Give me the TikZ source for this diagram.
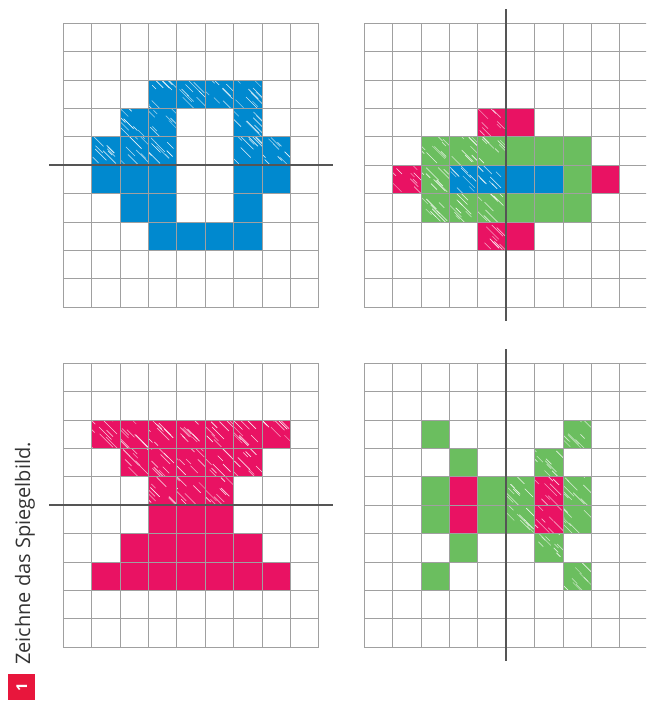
\documentclass[tikz,border=0pt]{standalone}
\usepackage{fontspec}
\newfontfamily\taskfont{Open Sans}
\definecolor{cblue}{RGB}{0,137,207}
\definecolor{cpink}{RGB}{233,18,99}
\definecolor{cgreen}{RGB}{107,190,95}
\definecolor{cred}{RGB}{232,22,60}
\definecolor{gridgray}{RGB}{160,160,160}
\definecolor{mirrorgray}{RGB}{85,85,85}
\tikzset{
  gridline/.style={draw=gridgray, line width=1pt},
  mirror/.style={draw=mirrorgray, line width=2.2pt},
  streak/.style={draw=white, line width=0.6pt, line cap=round}
}
% coloured cell with crayon streaks: colour, column, row
\newcommand\hatchcell[3]{%
  \fill[#1] (#2,-#3) rectangle ++(1,-1);
  \begin{scope}
    \clip (#2,-#3) rectangle ++(1,-1);
    \foreach \k in {1,...,9}{
      \pgfmathsetmacro\sx{#2-0.2+rnd}
      \pgfmathsetmacro\sy{-#3+0.2-rnd}
      \pgfmathsetmacro\sl{0.12+0.35*rnd}
      \pgfmathsetmacro\so{0.5+0.45*rnd}
      \draw[streak, opacity=\so] (\sx,\sy) -- ++(\sl,-\sl);
    }
  \end{scope}}
\newcommand\solidcell[3]{\fill[#1] (#2,-#3) rectangle ++(1,-1);}
\begin{document}
\begin{tikzpicture}
  \pgfmathsetseed{4711}
  \useasboundingbox (-2.229,0.82) rectangle (20.52,-23.97);
  \clip (-2.229,0.82) rectangle (20.52,-23.97);

  % oben links
  \begin{scope}[shift={(0,0)}]
    \foreach \c/\r in {3/2,4/2,5/2,6/2,2/3,3/3,6/3,1/4,2/4,3/4,6/4,7/4}
      {\hatchcell{cblue}{\c}{\r}}
    \foreach \c/\r in {1/5,2/5,3/5,6/5,7/5,2/6,3/6,6/6,3/7,4/7,5/7,6/7}
      {\solidcell{cblue}{\c}{\r}}
    \draw[gridline] (0,0) grid (9,-10);
    \draw[mirror] (-0.5,-5) -- (9.5,-5);
  \end{scope}

  % oben rechts
  \begin{scope}[shift={(10.6,0)}]
    \foreach \c/\r in {4/3,1/5,4/7}
      {\hatchcell{cpink}{\c}{\r}}
    \foreach \c/\r in {2/4,3/4,4/4,2/5,2/6,3/6,4/6}
      {\hatchcell{cgreen}{\c}{\r}}
    \foreach \c/\r in {3/5,4/5}
      {\hatchcell{cblue}{\c}{\r}}
    \foreach \c/\r in {5/3,8/5,5/7}
      {\solidcell{cpink}{\c}{\r}}
    \foreach \c/\r in {5/4,6/4,7/4,7/5,5/6,6/6,7/6}
      {\solidcell{cgreen}{\c}{\r}}
    \foreach \c/\r in {5/5,6/5}
      {\solidcell{cblue}{\c}{\r}}
    \draw[gridline] (0,0) grid (10,-10);
    \draw[mirror] (5,0.5) -- (5,-10.5);
  \end{scope}

  % unten links
  \begin{scope}[shift={(0,-11.97)}]
    \foreach \c in {1,...,7}
      {\hatchcell{cpink}{\c}{2}}
    \foreach \c in {2,...,6}
      {\hatchcell{cpink}{\c}{3}}
    \foreach \c in {3,...,5}
      {\hatchcell{cpink}{\c}{4}}
    \foreach \c in {3,...,5}
      {\solidcell{cpink}{\c}{5}}
    \foreach \c in {2,...,6}
      {\solidcell{cpink}{\c}{6}}
    \foreach \c in {1,...,7}
      {\solidcell{cpink}{\c}{7}}
    \draw[gridline] (0,0) grid (9,-10);
    \draw[mirror] (-0.5,-5) -- (9.5,-5);
  \end{scope}

  % unten rechts
  \begin{scope}[shift={(10.6,-11.97)}]
    \foreach \c/\r in {7/2,6/3,5/4,7/4,5/5,7/5,6/6,7/7}
      {\hatchcell{cgreen}{\c}{\r}}
    \foreach \c/\r in {6/4,6/5}
      {\hatchcell{cpink}{\c}{\r}}
    \foreach \c/\r in {2/2,3/3,2/4,4/4,2/5,4/5,3/6,2/7}
      {\solidcell{cgreen}{\c}{\r}}
    \foreach \c/\r in {3/4,3/5}
      {\solidcell{cpink}{\c}{\r}}
    \draw[gridline] (0,0) grid (10,-10);
    \draw[mirror] (5,0.5) -- (5,-10.5);
  \end{scope}

  % Aufgabe
  \node[rotate=90, anchor=base west, inner sep=0pt, text=black!80,
        font=\taskfont\fontsize{20}{22}\selectfont] (task) at (-1.17,-22.6)
    {Zeichne das Spiegelbild.};
  \node[fill=cred, minimum size=0.93cm, inner sep=0pt, text=white,
        font=\taskfont\bfseries\fontsize{15}{16}\selectfont] (num) at (-1.465,-23.38)
    {\rotatebox{90}{1}};
\end{tikzpicture}
\end{document}
